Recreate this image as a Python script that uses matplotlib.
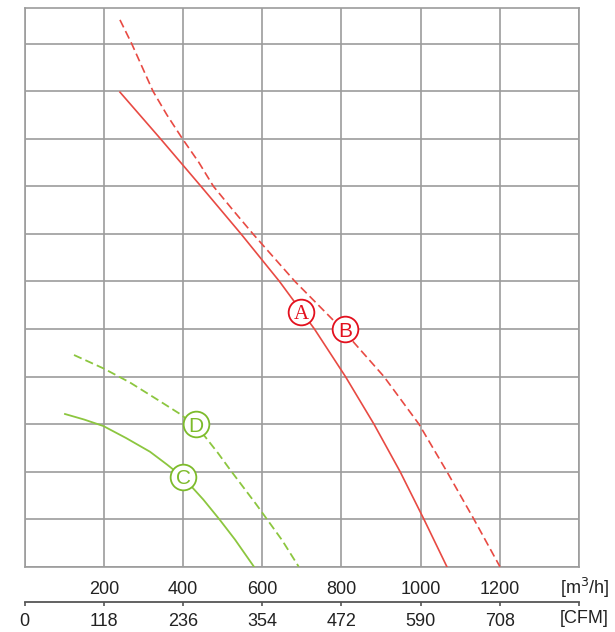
import matplotlib
matplotlib.use("Agg")
import matplotlib.pyplot as plt
from matplotlib.ticker import MultipleLocator, FixedLocator

plt.rcParams['font.family'] = ['Liberation Sans', 'DejaVu Sans']
plt.rcParams['lines.scale_dashes'] = False

# ---- data (flow in m3/h, pressure in grid divisions) ----
a_x = [240.6, 342.9, 445.2, 546.2, 643.4, 731.7, 810.0, 882.0, 948.1, 1008.2, 1066.3]
a_y = [9.98, 9.0, 8.0, 7.0, 6.0, 5.0, 4.0, 3.0, 2.0, 1.0, 0.0]

b_x = [240.6, 270.2, 324.0, 359.3, 398.4, 440.0, 476.6, 525.9, 576.4, 682.5, 801.2, 907.2,
       995.6, 1066.3, 1134.5, 1200.3]
b_y = [11.5, 11.0, 10.0, 9.5, 9.0, 8.5, 8.0, 7.5, 7.0, 6.0, 5.0, 4.0,
       3.0, 2.0, 1.0, 0.0]

c_x = [101.8, 149.7, 198.5, 255.8, 316.4, 359.3, 400.5, 451.0, 493.1, 531.0, 579.0]
c_y = [3.211, 3.096, 2.959, 2.707, 2.418, 2.149, 1.876, 1.413, 0.982, 0.572, 0.0]

d_x = [124.5, 198.5, 265.9, 336.6, 396.4, 432.5, 455.3, 488.1, 518.4, 584.1, 649.7, 692.1]
d_y = [4.452, 4.172, 3.874, 3.506, 3.190, 2.938, 2.738, 2.391, 2.044, 1.319, 0.562, 0.0]

m3h_ticks = [0, 200, 400, 600, 800, 1000, 1200, 1400]
m3h_labels = ['', '200', '400', '600', '800', '1000', '1200', '']
cfm_labels = ['0', '118', '236', '354', '472', '590', '708', '']

labels = ['A', 'B', 'C', 'D']
label_x = [699, 810, 400, 432]
label_y = [5.36, 4.99, 1.89, 3.0]

RED = '#e84a43'
RED_TXT = '#e3101e'
GREEN = '#8cc63f'
GREEN_TXT = '#7dbb2b'
GRID = '#9c9c9c'

W, H = 615, 632
fig = plt.figure(figsize=(W / 100, H / 100), dpi=100)
L, R, T, B = 24.7, 579.0, 8.3, 566.7
ax = fig.add_axes([L / W, 1 - B / H, (R - L) / W, (B - T) / H])
ax.set_xlim(0, 1400)
ax.set_ylim(0, (B - T) / 47.55)

ax.xaxis.set_major_locator(FixedLocator(m3h_ticks))
ax.set_xticklabels(m3h_labels)
ax.yaxis.set_major_locator(MultipleLocator(1))
ax.set_yticklabels([])
ax.tick_params(axis='both', length=0)
ax.tick_params(axis='x', pad=10.5, labelsize=13, labelcolor='#222222')
ax.grid(True, color=GRID, lw=1.2)
ax.set_axisbelow(True)
for s in ax.spines.values():
    s.set_color(GRID)
    s.set_linewidth(1.2)

dash = (0, (6, 3))
ax.plot(a_x, a_y, color=RED, lw=1.2, zorder=3)
ax.plot(b_x, b_y, color=RED, lw=1.2, ls=dash, zorder=3)
ax.plot(c_x, c_y, color=GREEN, lw=1.3, zorder=3)
ax.plot(d_x, d_y, color=GREEN, lw=1.3, ls=dash, zorder=3)

for lab, lx, ly in zip(labels, label_x, label_y):
    red = lab in ('A', 'B')
    ec = RED_TXT if red else GREEN_TXT
    ax.plot([lx], [ly], marker='o', ms=18.5, mfc='white', mec=ec, mew=1.3,
            zorder=5, clip_on=False)
    fam = ['Liberation Serif'] if lab == 'A' else ['Liberation Sans']
    ax.text(lx, ly, lab, color=ec, fontsize=15, ha='center', va='center_baseline',
            family=fam, zorder=6)

fig.text(560 / W, 1 - 588 / H, '[m$^3$/h]', fontsize=13, color='#222222',
         ha='left', va='center')

# CFM axis
AY = 601.7
ax2 = fig.add_axes([L / W, 1 - AY / H, (R - L) / W, 0.001])
ax2.set_xlim(0, 1400)
ax2.set_ylim(0, 1)
for k in ('top', 'left', 'right'):
    ax2.spines[k].set_visible(False)
ax2.spines['bottom'].set_color('#555555')
ax2.spines['bottom'].set_linewidth(1.3)
ax2.patch.set_visible(False)
ax2.set_yticks([])
ax2.xaxis.set_major_locator(FixedLocator(m3h_ticks))
ax2.set_xticklabels(cfm_labels)
ax2.tick_params(axis='x', direction='out', length=3, width=1.2, color='#555555',
                pad=5, labelsize=13, labelcolor='#222222')
fig.text(560 / W, 1 - 618.3 / H, '[CFM]', fontsize=13, color='#222222',
         ha='left', va='center')

fig.savefig('out.png', dpi=100)
